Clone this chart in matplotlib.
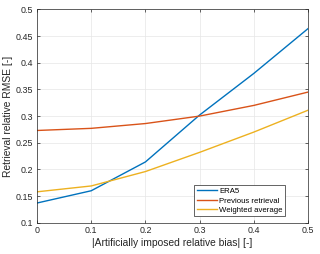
import matplotlib
matplotlib.use("Agg")
import matplotlib.pyplot as plt

bias = [0, 0.1, 0.2, 0.3, 0.4, 0.5]
era5 = [0.137, 0.160, 0.214, 0.302, 0.380, 0.464]
previous = [0.273, 0.277, 0.286, 0.300, 0.320, 0.345]
weighted = [0.158, 0.169, 0.196, 0.232, 0.270, 0.311]
xticks = [0, 0.1, 0.2, 0.3, 0.4, 0.5]
yticks = [0.1, 0.15, 0.2, 0.25, 0.3, 0.35, 0.4, 0.45, 0.5]

plt.rcParams['font.family'] = ['Liberation Sans', 'DejaVu Sans']
fig = plt.figure(figsize=(3.2, 2.54), dpi=100)
ax = fig.add_axes([0.1156, 0.123, 0.847, 0.840])
ax.plot(bias, era5, color='#0072BD', lw=1.0, label='ERA5')
ax.plot(bias, previous, color='#D95319', lw=1.0, label='Previous retrieval')
ax.plot(bias, weighted, color='#EDB120', lw=1.0, label='Weighted average')
ax.set_xlim(0, 0.5)
ax.set_ylim(0.1, 0.5)
ax.set_xticks(xticks)
ax.set_xticklabels(['0', '0.1', '0.2', '0.3', '0.4', '0.5'])
ax.set_yticks(yticks)
ax.set_yticklabels(['0.1', '0.15', '0.2', '0.25', '0.3', '0.35', '0.4', '0.45', '0.5'])
ax.grid(True, color='#e6e6e6', lw=0.5)
ax.set_axisbelow(True)
ax.tick_params(direction='in', top=True, right=True, labelsize=6.4, length=2.5, width=0.5, colors='#262626', pad=2.5)
for s in ax.spines.values():
    s.set_color('#262626')
    s.set_linewidth(0.5)
ax.set_xlabel('|Artificially imposed relative bias| [-]', fontsize=7.4, color='#262626', labelpad=2)
ax.set_ylabel('Retrieval relative RMSE [-]', fontsize=7.4, color='#262626')
ax.yaxis.set_label_coords(-0.088, 0.5)
leg = ax.legend(loc='lower right', fontsize=5.6, fancybox=False, edgecolor='#262626',
                framealpha=1, borderpad=0.3, labelspacing=0.25, handlelength=2.6,
                handletextpad=0.3, bbox_to_anchor=(0.929, 0.012))
leg.get_frame().set_linewidth(0.5)
fig.savefig('out.png', dpi=100)
